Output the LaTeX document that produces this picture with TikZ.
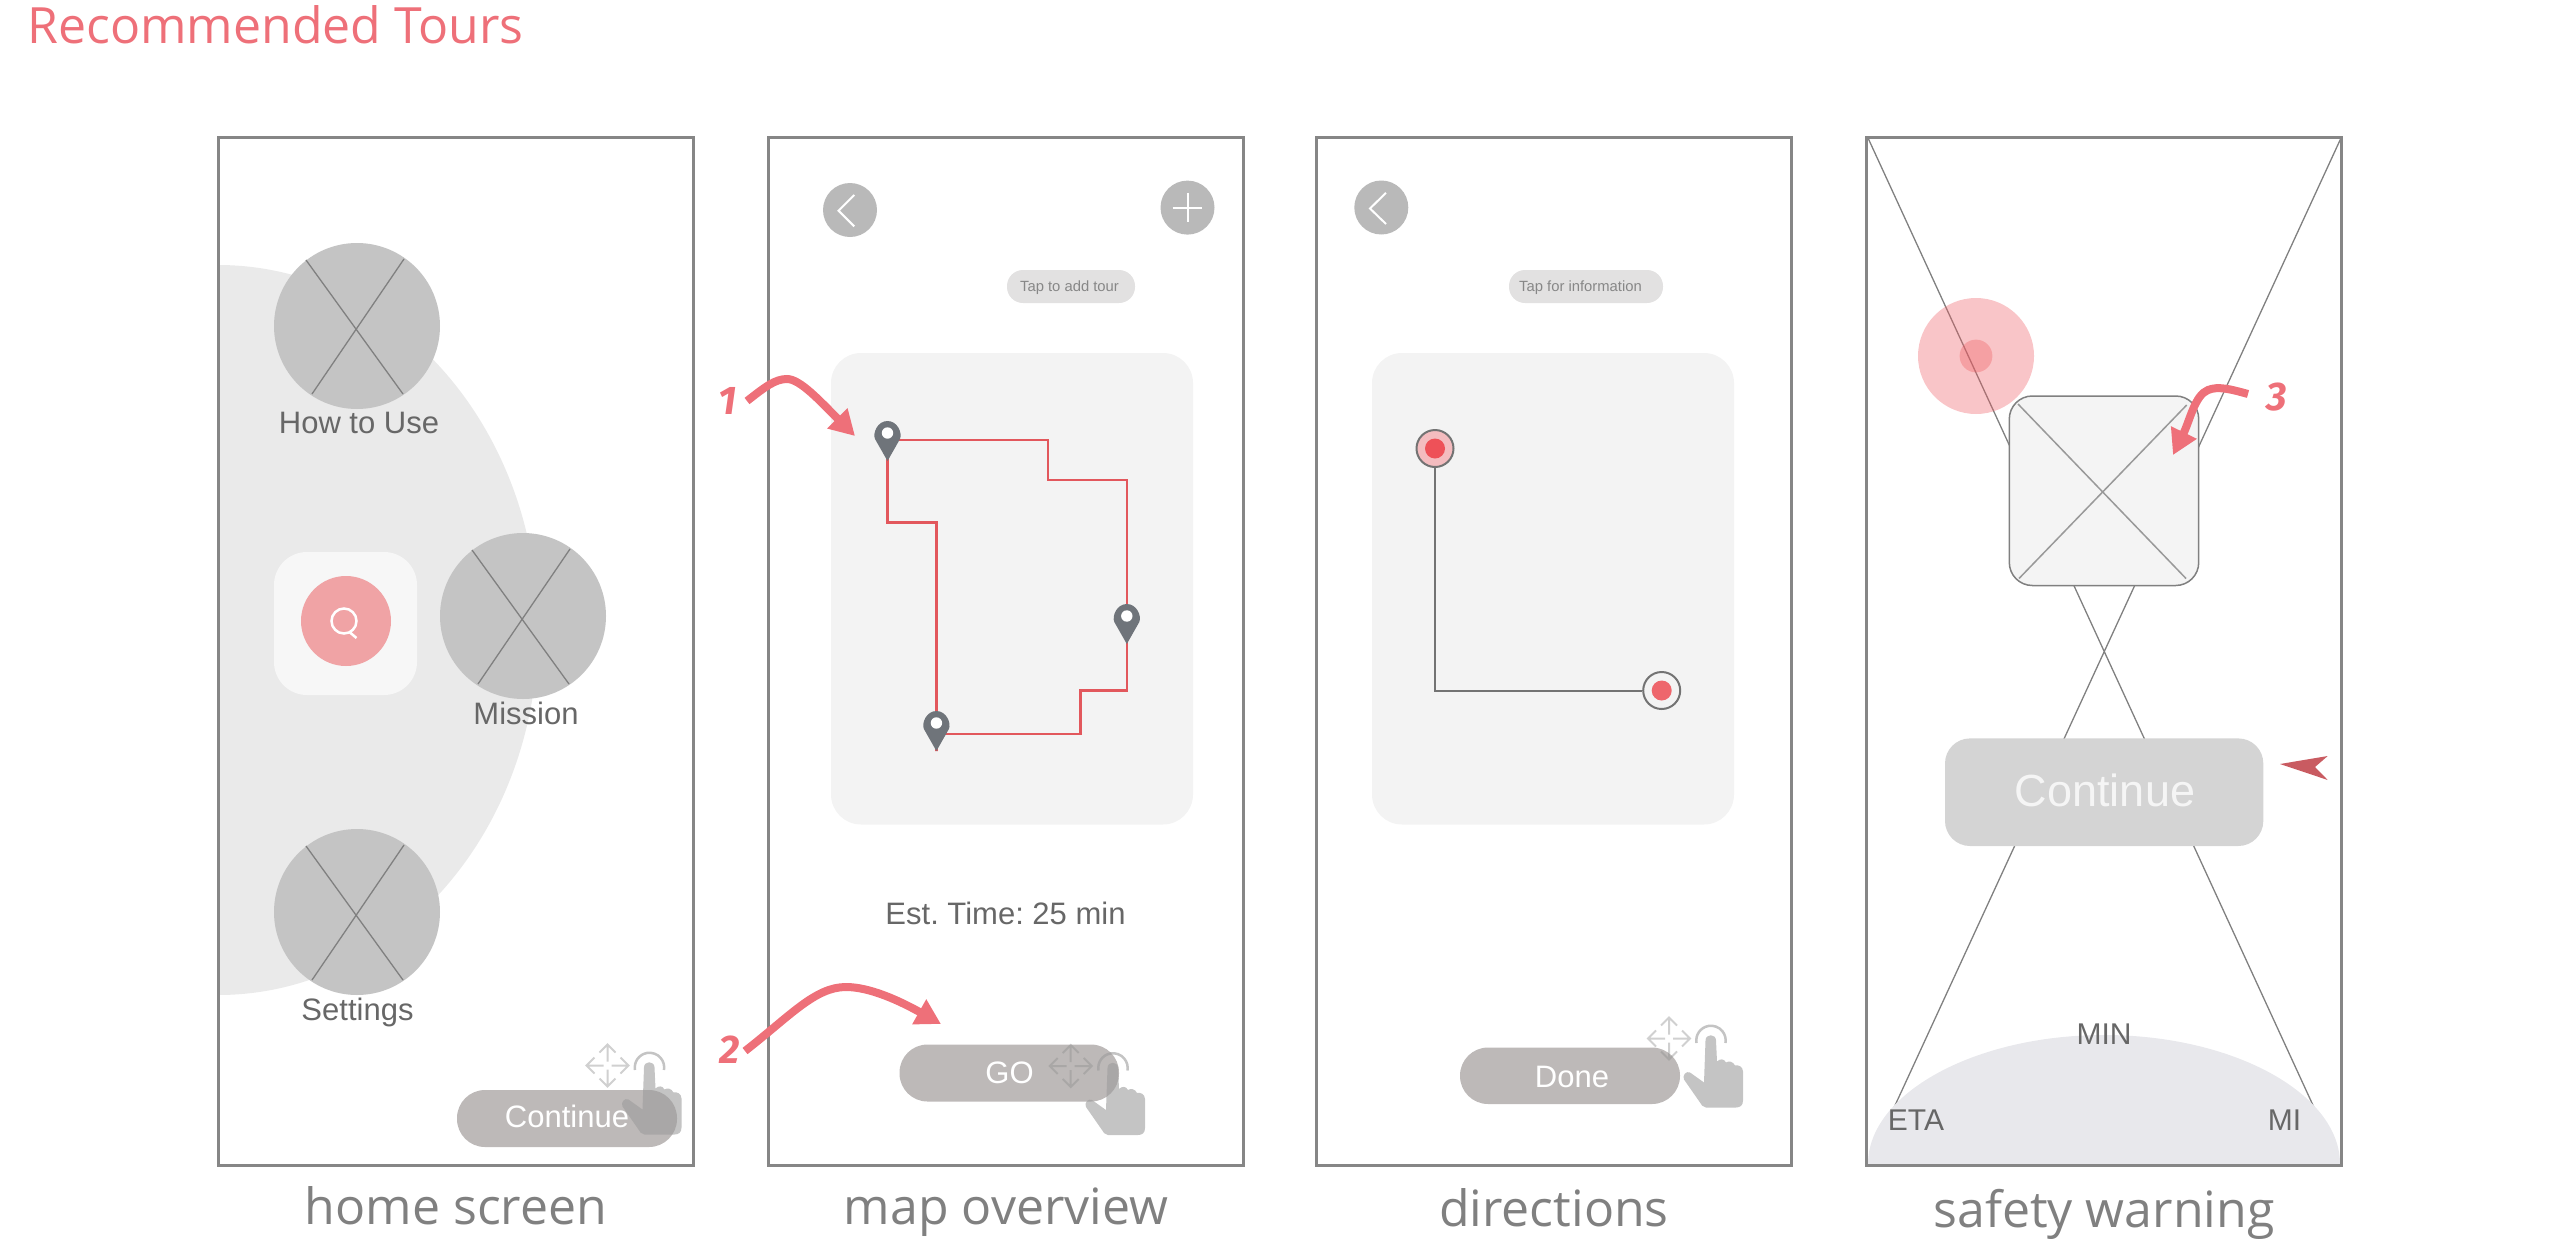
\documentclass[tikz,border=0pt]{standalone}
\usepackage{fontspec}
\setmainfont{Open Sans}
\setsansfont{Liberation Sans}
\newfontfamily\notefont{Fira Sans}
\usetikzlibrary{arrows.meta,positioning}
\definecolor{framegray}{HTML}{868686}
\definecolor{notepink}{HTML}{EE7079}
\definecolor{discgray}{HTML}{C4C4C4}
\definecolor{pillgray}{HTML}{BDB9B8}
\definecolor{backgray}{HTML}{B9B9B9}
\definecolor{tipgray}{HTML}{E2E1E1}
\definecolor{panelgray}{HTML}{F3F3F3}
\definecolor{routered}{HTML}{E2575C}
\definecolor{pingray}{HTML}{6F747A}
\definecolor{labelgray}{HTML}{676767}
\definecolor{searchpink}{HTML}{F0A3A5}
\definecolor{stoppink}{HTML}{F4BCBF}
\definecolor{stopred}{HTML}{EE5158}
\definecolor{endred}{HTML}{EE666C}
\definecolor{warnred}{HTML}{EE5A60}
\definecolor{boxgray}{HTML}{F4F4F4}
\definecolor{domegray}{HTML}{E8E8EC}
\definecolor{markred}{HTML}{C95B61}
\definecolor{blobgray}{HTML}{EAEAEA}
\tikzset{
  caption/.style={font=\fontsize{50}{60}\selectfont\rmfamily,text=black!50,anchor=base},
  uilabel/.style={font=\fontsize{31}{37}\selectfont\sffamily,text=labelgray,anchor=base},
  pilltext/.style={font=\fontsize{31}{37}\selectfont\sffamily,text=white,anchor=base},
  tiptext/.style={font=\fontsize{14.8}{18}\selectfont\sffamily,text=black!47,anchor=base},
  notenum/.style={font=\fontsize{40}{48}\selectfont\notefont\bfseries\itshape,text=notepink},
  notearrow/.style={draw=notepink,line width=8pt,-{Triangle[length=25pt,width=27pt]}},
  xline/.style={draw=black!50,line width=1.3pt},
  route/.style={draw=routered,line width=2.5pt},
  movehint/.pic={
    \foreach \r in {0,90,180,270} {
      \draw[rotate=\r,draw=black!44,opacity=0.42,line width=2pt] (4,0)--(21,0) (13,-8)--(21,0)--(13,8);
    }
  },
  handhint/.pic={
    \draw[draw=black!39,opacity=0.6,line width=2.5pt] (-14.5,2.5) arc[start angle=170,end angle=370,radius=14.7];
    \fill[black!39,opacity=0.6] (-5.5,0) .. controls (-5.5,-7) and (5,-7) .. (5,0) -- (6,21)
      .. controls (9,18) and (13,18) .. (15,22) .. controls (18,20) and (22,21) .. (24,25)
      .. controls (27,24) and (32,26) .. (32,31) -- (32,60) .. controls (32,65) and (29,67) .. (25,67)
      -- (-5,67) .. controls (-8,67) and (-10,64) .. (-11,62) -- (-27,39) .. controls (-29,35) and (-25,30) .. (-21,32) -- (-7,42) -- cycle;
  },
  mappin/.pic={
    \fill[pingray] (0,0) -- (-12.5,-22) .. controls (-15,-28) and (-10,-40) .. (0,-40)
      .. controls (10,-40) and (15,-28) .. (12.5,-22) -- cycle;
    \fill[white] (0,-28) circle (5.7);
  },
}
\newcommand{\crossdisc}[2]{
  \fill[discgray] (#1,#2) circle (83);
  \draw[xline] (#1-51,#2-66) -- (#1+46,#2+68) (#1+47,#2-67) -- (#1-45,#2+68);
}
\begin{document}
\frenchspacing
\begin{tikzpicture}[x=1pt,y=-1pt]
  \useasboundingbox (0,0) rectangle (2560,1245);
  \node[font=\fontsize{50}{60}\selectfont\rmfamily,text=notepink,anchor=base] (title) at (275.5,43) {Recommended Tours};

  % home screen
  \fill[blobgray] (218,265) .. controls (395,265) and (538,428) .. (538,630) .. controls (538,832) and (395,995) .. (218,995) -- cycle;
  \crossdisc{357}{326} \crossdisc{523}{616} \crossdisc{357}{912}
  \node[uilabel] (howto) at (359,433.5) {How to Use};
  \node[uilabel] (mission) at (526,724) {Mission};
  \node[uilabel] (settings) at (357.5,1020) {Settings};
  \fill[black!3,rounded corners=33pt] (274,552) rectangle (417,695);
  \fill[searchpink] (346,621) circle (45);
  \draw[white,line width=2.5pt] (344,621) circle (12.5) (350,632.5) -- (356.5,638);
  \fill[pillgray,rounded corners=28pt] (457,1090) rectangle (677,1147);
  \node[pilltext] (contA) at (567,1127.5) {Continue};
  \pic at (607.5,1065.5) {movehint};
  \pic at (649.5,1067.5) {handhint};

  % map overview
  \fill[backgray] (850,210) circle (27);
  \draw[white,line width=2pt] (854.3,195) -- (838.6,210.7) -- (854.3,226.4);
  \fill[backgray] (1187.5,207.6) circle (27);
  \draw[white,line width=2pt] (1172.7,207.6) -- (1202.3,207.6) (1187.5,192.8) -- (1187.5,222.4);
  \fill[tipgray,rounded corners=16pt] (1007,270) rectangle (1135,303);
  \node[tiptext] (tipA) at (1069.5,291.5) {Tap to add tour};
  \fill[panelgray,rounded corners=30pt] (831,353) rectangle (1193,824.5);
  \coordinate (pinA) at (887.5,461);
  \coordinate (pinB) at (1126.8,644);
  \coordinate (pinC) at (936.4,751);
  \draw[route] (pinA) |- (1048,440) |- (1126.8,480) -- (pinB) -- (1126.8,690.5) -| (1080.4,734) -| (pinC) -- (936.4,522.5) -| (pinA);
  \pic at (pinA) {mappin};
  \pic at (pinB) {mappin};
  \pic at (pinC) {mappin};
  \node[uilabel] (esttime) at (1005.5,924) {Est. Time: 25 min};
  \fill[pillgray,rounded corners=28pt] (899.5,1044.5) rectangle (1119,1101.5);
  \node[pilltext] (go) at (1009.5,1083) {GO};
  \pic at (1070.7,1066) {movehint};
  \pic at (1113,1068) {handhint};

  % directions
  \fill[backgray] (1381.3,207.5) circle (27);
  \draw[white,line width=2pt] (1386,192.8) -- (1370,208.5) -- (1386,224);
  \fill[tipgray,rounded corners=16pt] (1509,270) rectangle (1663,303);
  \node[tiptext] (tipB) at (1580.5,291) {Tap for information};
  \fill[panelgray,rounded corners=30pt] (1372,353) rectangle (1734,824.5);
  \node[circle,draw=black!55,line width=2pt,fill=stoppink,minimum size=37pt,inner sep=0pt] (stopA) at (1435,448.5) {};
  \node[circle,draw=black!55,line width=2pt,fill=panelgray,minimum size=37pt,inner sep=0pt] (stopB) at (1661.7,690.5) {};
  \fill[stopred] (stopA) circle (10);
  \fill[endred] (stopB) circle (10);
  \draw[draw=black!55,line width=2pt] (stopA) |- (stopB);
  \fill[pillgray,rounded corners=28pt] (1460,1047.5) rectangle (1680,1104);
  \node[pilltext] (done) at (1572,1087) {Done};
  \pic at (1669,1038.5) {movehint};
  \pic at (1711,1040.5) {handhint};

  % safety warning
  \draw[xline] (1868,138) -- (2340,1164) (2341,138) -- (1868,1164);
  \fill[warnred,opacity=0.35] (1976,356) circle (58);
  \fill[warnred,opacity=0.35] (1976,356) circle (16.4);
  \draw[draw=black!50,line width=1.5pt,fill=boxgray,rounded corners=23pt] (2009.3,396) rectangle (2198.7,585.5);
  \draw[draw=black!40,line width=1.5pt] (2018,404) -- (2186,578.5) (2186.7,405) -- (2019,578.5);
  \fill[black!17,rounded corners=25pt] (1945,738.4) rectangle (2263.3,846);
  \node[font=\fontsize{45}{54}\selectfont\sffamily,text=white!96!black,anchor=base] (contB) at (2105,806) {Continue};
  \fill[domegray] (1868,1164) .. controls (1868,1094) and (1974,1035) .. (2104,1035) .. controls (2234,1035) and (2340,1094) .. (2340,1164) -- cycle;
  \node[font=\fontsize{30}{36}\selectfont\sffamily,text=labelgray,anchor=base] (minlab) at (2104,1044) {MIN};
  \node[font=\fontsize{30}{36}\selectfont\sffamily,text=labelgray,anchor=base] (etalab) at (1916,1130) {ETA};
  \node[font=\fontsize{30}{36}\selectfont\sffamily,text=labelgray,anchor=base] (milab) at (2284.5,1130) {MI};
  \fill[markred] (2280,764) -- (2327.7,756) -- (2315,767) -- (2327.7,780) -- cycle;

  \foreach \xa in {218,768.5,1316.5,1866.5} {
    \draw[draw=framegray,line width=3pt] (\xa,137) rectangle +(475,1028);
  }
  \node[caption] (capA) at (456,1224) {home screen};
  \node[caption] (capB) at (1006,1224) {map overview};
  \node[caption] (capC) at (1554,1226) {directions};
  \node[caption] (capD) at (2104,1227) {safety warning};

  % notes
  \node[notenum] (one) at (727.5,401) {1};
  \node[notenum] (two) at (730,1050) {2};
  \node[notenum] (three) at (2276.7,397) {3};
  \coordinate (oneend) at (855,436);
  \coordinate (twoend) at (941,1024);
  \coordinate (threeend) at (2173,455);
  \draw[notearrow] (747,401) .. controls (765,387) and (775,379) .. (787,379) .. controls (800,379) and (820,401) .. (oneend);
  \draw[notearrow] (745,1051) .. controls (790,1016) and (815,987) .. (846,987) .. controls (870,987) and (900,1001) .. (twoend);
  \draw[notearrow] (2248,394) .. controls (2230,389) and (2218,386) .. (2208,390) .. controls (2195,395) and (2190,420) .. (threeend);
\end{tikzpicture}
\end{document}
